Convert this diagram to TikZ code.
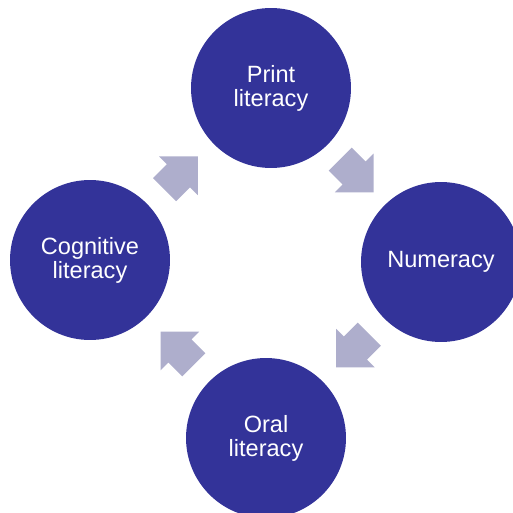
\documentclass[tikz,border=0pt]{standalone}
\usepackage{fontspec}
\setmainfont{Liberation Sans}
\usetikzlibrary{calc,shapes.arrows}
\definecolor{circblue}{RGB}{51,51,153}
\definecolor{arrowgrey}{RGB}{174,174,204}

\begin{document}
\begin{tikzpicture}[x=0.02cm, y=-0.02cm,
    litcircle/.style={circle, fill=circblue, minimum size=3.2cm, inner sep=0pt,
        text=white, align=center, font=\fontsize{13.4}{13.6}\selectfont},
    cyclearrow/.style={single arrow, fill=arrowgrey, minimum height=0.94cm,
        minimum width=1.08cm, single arrow head extend=0.22cm,
        inner xsep=0pt, inner ysep=0.32cm}]
    \useasboundingbox (0,0) rectangle (512,513);
    % Place nodes
    \node [litcircle] (print) at (271,88) {Print\\literacy};
    \node [litcircle] (numer) at (441,262) {Numeracy};
    \node [litcircle] (oral) at (266,438) {Oral\\literacy};
    \node [litcircle] (cogn) at (90,260) {Cognitive\\literacy};

    % Arrows between the circles
    \node [cyclearrow, rotate=45] (a1) at ($(cogn)!0.5!(print)!0.14cm!(cogn)$) {};
    \node [cyclearrow, rotate=-45] (a2) at ($(print)!0.5!(numer)!0.14cm!(print)$) {};
    \node [cyclearrow, rotate=-135] (a3) at ($(numer)!0.5!(oral)!0.14cm!(numer)$) {};
    \node [cyclearrow, rotate=135] (a4) at ($(oral)!0.5!(cogn)!0.14cm!(oral)$) {};
\end{tikzpicture}
\end{document}
